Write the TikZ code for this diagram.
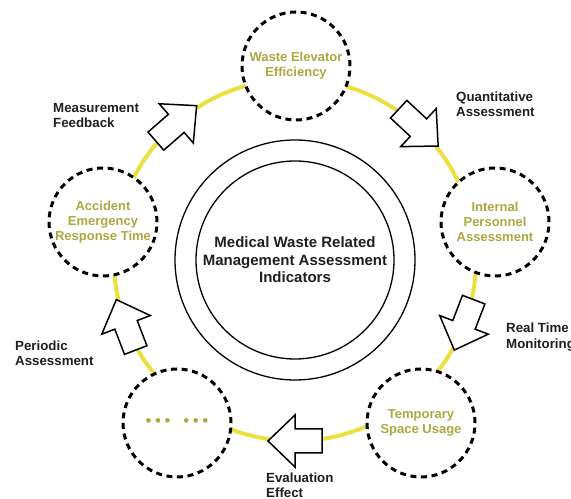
\documentclass[tikz,border=0pt]{standalone}
\usepackage{fontspec}
\setmainfont{Liberation Sans}
\usetikzlibrary{calc}
\definecolor{olive}{RGB}{172,168,64}
\definecolor{ringyellow}{RGB}{236,224,64}
\tikzset{
  stage/.style={circle, draw=black, fill=white, line width=3bp,
    dash pattern=on 6bp off 4.6bp, minimum size=108bp, inner sep=0pt,
    text=olive, align=center, font=\fontsize{13bp}{15bp}\selectfont\bfseries},
  ring/.style={circle, draw=black, line width=1.3bp, inner sep=0pt},
  steplabel/.style={anchor=west, align=left, inner sep=0pt,
    font=\fontsize{13.3bp}{15.5bp}\selectfont\bfseries, text=black!88},
  arrowline/.style={draw=black, fill=white, line width=1.5bp, line join=miter},
  pics/blockarrow/.style={code={
    \draw[arrowline] (27,0) -- (0,26) -- (0,12) -- (-27,12) -- (-27,-12)
      -- (0,-12) -- (0,-26) -- cycle;
  }}
}
\begin{document}
\begin{tikzpicture}[x=1bp,y=1bp]
\useasboundingbox (0,0) rectangle (571,499);
\coordinate (c) at (295,239);

% yellow cycle behind everything
\draw[ringyellow, line width=4bp] (c) circle[radius=181];

% central indicator rings
\node[ring, minimum size=240bp] (outer) at (c) {};
\node[ring, minimum size=198bp, align=center,
  font=\fontsize{15bp}{17.5bp}\selectfont\bfseries, text=black!88] (core) at (c)
  {Medical Waste Related\\Management Assessment\\Indicators};

% the five assessment stages
\node[stage] (elev) at (296,433) {Waste Elevator\\Efficiency};
\node[stage] (pers) at (495,277) {Internal\\Personnel\\Assessment};
\node[stage] (space) at (421,76) {Temporary\\Space Usage};
\node[stage, font=\fontsize{17bp}{17bp}\selectfont] (more) at (177,76)
  {•\hspace{3.5bp}•\hspace{3.5bp}•\hspace{13bp}•\hspace{3.5bp}•\hspace{3.5bp}•};
\node[stage] (acc) at (103,277) {Accident\\Emergency\\Response Time};

% clockwise block arrows on the cycle
\path (c) ++(131:181) pic[rotate=41] (a1) {blockarrow};
\path (c) ++(47:181) pic[rotate=-43] (a2) {blockarrow};
\path (c) ++(339:181) pic[rotate=249] (a3) {blockarrow};
\path (c) ++(270:181) pic[rotate=180] (a4) {blockarrow};
\path (c) ++(201:181) pic[rotate=111] (a5) {blockarrow};

% arrow captions
\node[steplabel] (l1) at (53,383.5) {Measurement\\Feedback};
\node[steplabel] (l2) at (456,394.5) {Quantitative\\Assessment};
\node[steplabel] (l3) at (506,162) {Real Time\\Monitoring};
\node[steplabel] (l4) at (266,14) {Evaluation\\Effect};
\node[steplabel] (l5) at (15,146) {Periodic\\Assessment};
\end{tikzpicture}
\end{document}
